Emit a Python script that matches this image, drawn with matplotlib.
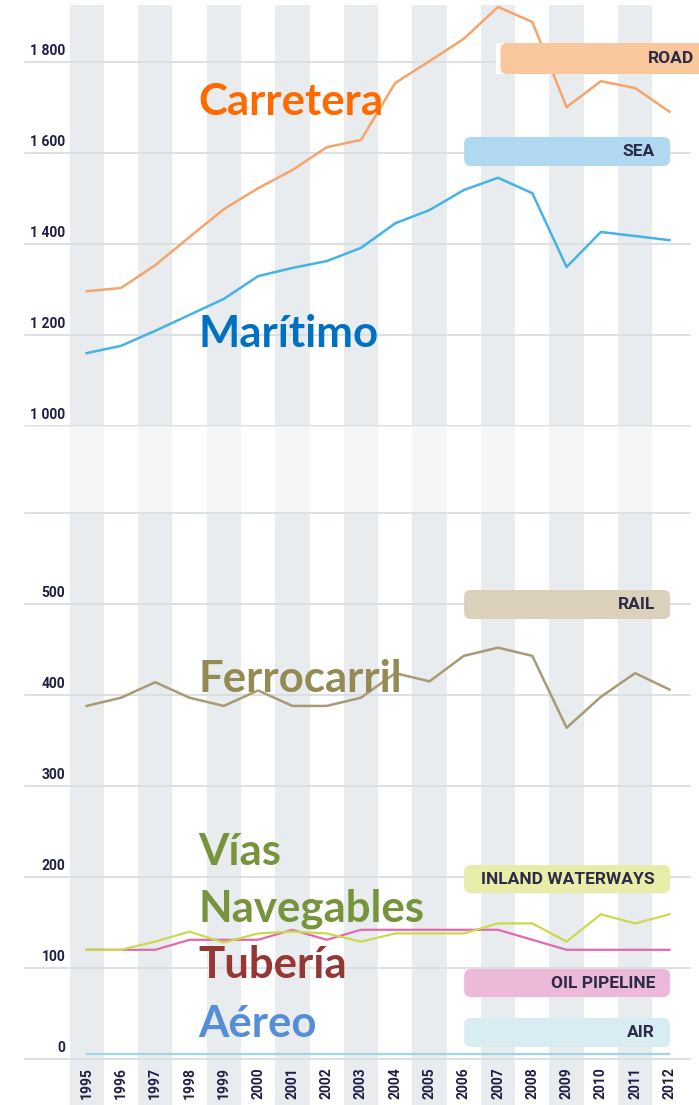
import matplotlib
matplotlib.use('Agg')
import matplotlib.pyplot as plt
from matplotlib.patches import FancyBboxPatch, Rectangle

# ---------------- data ----------------
years = list(range(1995, 2013))
road = [1296, 1303, 1353, 1415, 1476, 1522, 1562, 1612, 1628, 1753, 1801, 1850, 1920, 1887, 1700, 1757, 1742, 1690]
sea = [1160, 1176, 1209, 1244, 1279, 1329, 1347, 1362, 1391, 1445, 1474, 1518, 1545, 1511, 1349, 1426, 1417, 1408]
rail = [388, 397, 414, 397, 388, 405, 388, 388, 397, 424, 415, 443, 452, 443, 364, 398, 424, 406]
inland = [120, 120, 129, 140, 128, 138, 140, 138, 129, 138, 138, 138, 149, 149, 129, 159, 149, 159]
pipeline = [120, 120, 120, 131, 131, 131, 142, 131, 142, 142, 142, 142, 142, 131, 120, 120, 120, 120]
air = [5] * 18

top_ticks = [1000, 1200, 1400, 1600, 1800]
top_tick_labels = ['1 000', '1 200', '1 400', '1 600', '1 800']
bottom_ticks = [0, 100, 200, 300, 400, 500, 600]
bottom_tick_labels = ['0', '100', '200', '300', '400', '500', '']

legend_labels = ['ROAD', 'SEA', 'RAIL', 'INLAND WATERWAYS', 'OIL PIPELINE', 'AIR']
spanish_labels = ['Carretera', 'Marítimo', 'Ferrocarril', 'Vías', 'Navegables', 'Tubería', 'Aéreo']

# ---------------- layout ----------------
W, H = 699, 1105
fig = plt.figure(figsize=(W / 100, H / 100), dpi=100)
fig.patch.set_facecolor('white')

def fy(px):
    return 1 - px / H

left = 25 / W
width = 665 / W
XLIM = (1993.2, 2012.6)

STRIPE = '#e8ecee'
GRID = '#d9dee1'
TICKC = '#1f1f45'

ax_bg = fig.add_axes([left, 0, width, fy(5)])
ax_bg.set_xlim(*XLIM)
ax_bg.set_ylim(0, 1)
ax_bg.set_axis_off()
for y in years[::2]:
    ax_bg.axvspan(y - 0.5, y + 0.5, color=STRIPE, lw=0)

ax_top = fig.add_axes([left, fy(426), width, (426 - 5) / H])
ax_top.set_xlim(*XLIM)
ax_top.set_ylim(1000, 1000 + 421 / 91.1 * 200)
ax_top.set_axis_off()

ax_mid = fig.add_axes([left, fy(513), width, (513 - 426) / H])
ax_mid.set_xlim(*XLIM)
ax_mid.set_ylim(0, 1)
ax_mid.set_axis_off()
ax_mid.axhspan(0, 1, color='white', alpha=0.55, lw=0)

ax_bot = fig.add_axes([left, fy(1059), width, (1059 - 513) / H])
ax_bot.set_xlim(*XLIM)
ax_bot.set_ylim(0, 600)
ax_bot.set_axis_off()

YLAB_X = 1994.37
for ax, ticks, labels in [(ax_top, top_ticks, top_tick_labels), (ax_bot, bottom_ticks, bottom_tick_labels)]:
    for v, lab in zip(ticks, labels):
        ax.axhline(v, color=GRID, lw=1.3, clip_on=False, zorder=1)
        if lab:
            ax.annotate(lab, xy=(YLAB_X, v), xytext=(0, 5), textcoords='offset points',
                        ha='right', va='baseline', fontsize=10, fontweight='bold',
                        color=TICKC, family='Roboto', annotation_clip=False)

for y in years:
    ax_bot.annotate(str(y), xy=(y, 0), xytext=(0, -6), textcoords='offset points',
                    rotation=90, ha='center', va='top', fontsize=10, fontweight='bold',
                    color=TICKC, family='Roboto', annotation_clip=False)

# ---------------- lines ----------------
ax_top.plot(years, road, color='#f5a46b', lw=1.8, zorder=3, clip_on=False)
ax_top.plot(years, sea, color='#45b3e6', lw=1.8, zorder=3, clip_on=False)
ax_bot.plot(years, rail, color='#a99a76', lw=1.8, zorder=3)
ax_bot.plot(years, pipeline, color='#e06aac', lw=1.6, zorder=3)
ax_bot.plot(years, inland, color='#cbd94e', lw=1.6, zorder=3)
ax_bot.plot(years, air, color='#9fd6e2', lw=1.6, zorder=3)

# ---------------- legend pills ----------------
ASP_TOP = (200 / 91.1) * 34.27
ASP_BOT = (100 / 91.0) * 34.27

def pill(ax, x0, x1, y0, y1, color, text, asp, tx=2011.58):
    p = FancyBboxPatch((x0, y0), x1 - x0, y1 - y0,
                       boxstyle='round,pad=0,rounding_size=0.2',
                       mutation_aspect=asp, fc=color, ec='none', clip_on=False, zorder=5)
    ax.add_patch(p)
    ax.text(tx, (y0 + y1) / 2, text, ha='right', va='center', fontsize=12.5,
            fontweight='bold', color='#2b2b45', family='Roboto', zorder=6, clip_on=False)

ax_top.add_patch(Rectangle((2006.95, 1772.8), 0.5, 68.0, fc='white', ec='none', zorder=4, clip_on=False))
pill(ax_top, 2007.07, 2013.6, 1772.8, 1840.8, '#f9c79c', legend_labels[0], ASP_TOP, tx=2012.72)
pill(ax_top, 2006.01, 2012.02, 1570.8, 1634.5, '#b0d8f1', legend_labels[1], ASP_TOP)
pill(ax_bot, 2006.01, 2012.02, 483.5, 515.4, '#dbd0b9', legend_labels[2], ASP_BOT)
pill(ax_bot, 2006.01, 2012.02, 182.4, 213.2, '#e8eda9', legend_labels[3], ASP_BOT)
pill(ax_bot, 2006.01, 2012.02, 68.1, 98.9, '#ecb9d9', legend_labels[4], ASP_BOT)
pill(ax_bot, 2006.01, 2012.02, 13.2, 45.1, '#d7edf1', legend_labels[5], ASP_BOT)

# ---------------- Spanish labels ----------------
LX = 1998.25
big = dict(fontsize=31.5, fontweight='bold', family='Lato', ha='left', va='baseline', zorder=7)
ax_top.text(LX, 1682.8, spanish_labels[0], color='#ff6a00', **big)
ax_top.text(LX, 1174.1, spanish_labels[1], color='#0070c0', **big)
ax_bot.text(LX, 403, spanish_labels[2], color='#948a54', **big)
ax_bot.text(LX, 213, spanish_labels[3], color='#77933c', **big)
ax_bot.text(LX, 151, spanish_labels[4], color='#77933c', **big)
ax_bot.text(LX, 88.7, spanish_labels[5], color='#953735', **big)
ax_bot.text(LX, 24.5, spanish_labels[6], color='#558ed5', **big)

fig.savefig('out.png', dpi=100, facecolor='white')
